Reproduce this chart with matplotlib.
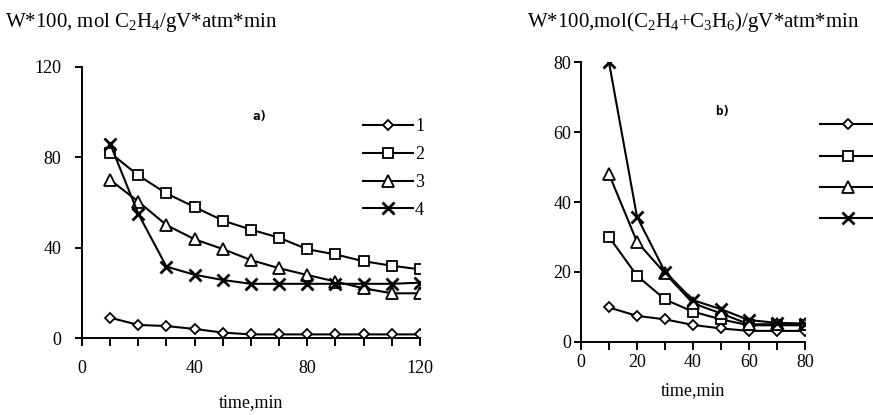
import matplotlib
matplotlib.use("Agg")
import matplotlib.pyplot as plt

plt.rcParams['font.family'] = ['Liberation Serif', 'DejaVu Serif']
plt.rcParams['mathtext.fontset'] = 'custom'
plt.rcParams['mathtext.rm'] = 'Liberation Serif'
plt.rcParams['mathtext.it'] = 'Liberation Serif'

# ---- data: panel a) ----
time_a = [10, 20, 30, 40, 50, 60, 70, 80, 90, 100, 110, 120]
a_s1 = [9, 5.8, 5.3, 4, 2.4, 1.6, 1.6, 1.6, 1.6, 1.6, 1.6, 1.6]
a_s2 = [82, 72, 64, 58, 52, 48, 44.4, 39.3, 37, 34, 32, 30.4]
a_s3 = [70, 60.4, 50, 43.7, 39.4, 34.5, 30.9, 27.9, 25, 22, 19.8, 19.8]
a_s4 = [86, 55, 31.6, 28, 25.7, 24, 24, 24, 24, 24, 24, 24.5]

# ---- data: panel b) ----
time_b = [10, 20, 30, 40, 50, 60, 70, 80]
b_s1 = [9.8, 7.4, 6.4, 4.8, 3.8, 3.1, 3.1, 3.1]
b_s2 = [30, 18.9, 12.1, 8.6, 6.4, 4.7, 4.7, 4.7]
b_s3 = [48, 28.6, 19.6, 11, 8.1, 5.0, 5.0, 5.0]
b_s4 = [80, 35.8, 20, 11.9, 9.3, 6.2, 5.4, 5.2]

legend_labels = ['1', '2', '3', '4']
title_a = r'W*100, mol C$_2$H$_4$/gV*atm*min'
title_b = r'W*100,mol(C$_2$H$_4$+C$_3$H$_6$)/gV*atm*min'
xlabel = 'time,min'

styles = [
    dict(marker='D', markersize=5.5),
    dict(marker='s', markersize=7.5),
    dict(marker='^', markersize=8),
    dict(marker='x', markersize=8.5, markeredgewidth=2.0),
]
common = dict(color='black', linewidth=1.5, markerfacecolor='white',
              markeredgecolor='black', markeredgewidth=1.3)

fig = plt.figure(figsize=(8.73, 4.15), dpi=100)
axa = fig.add_axes([0.0939, 0.1855, 0.3872, 0.6531])
axb = fig.add_axes([0.6655, 0.1766, 0.2566, 0.6733])

def style_axis(ax, xpad, ypad):
    for s in ['top', 'right']:
        ax.spines[s].set_visible(False)
    for s in ['left', 'bottom']:
        ax.spines[s].set_linewidth(1.4)
    ax.tick_params(which='both', direction='out', width=1.4, labelsize=13)
    ax.tick_params(axis='x', which='both', length=6, pad=xpad)
    ax.tick_params(axis='y', which='both', length=5, pad=ypad)

def draw(ax, t, series):
    hs = []
    for ys, st in zip(series, styles):
        kw = dict(common); kw.update(st)
        h, = ax.plot(t, ys, **kw)
        hs.append(h)
    return hs

handles = draw(axa, time_a, [a_s1, a_s2, a_s3, a_s4])
axa.set_xlim(0, 120)
axa.set_ylim(0, 120)
axa.set_xticks([0, 40, 80, 120])
axa.set_xticks(list(range(0, 121, 10)), minor=True)
axa.set_yticks([0, 40, 80, 120])
style_axis(axa, 10, 10)
axa.set_xlabel(xlabel, fontsize=13, labelpad=12)
axa.text(0.503, 0.804, 'a)', transform=axa.transAxes, fontsize=9,
         family='DejaVu Sans Mono', fontweight='bold')
axa.legend(handles, legend_labels, loc='upper left', bbox_to_anchor=(0.405, 0.737),
           bbox_transform=fig.transFigure, frameon=False, fontsize=13,
           handlelength=2.8, handletextpad=0.1, labelspacing=0.6, borderpad=0)

handles_b = draw(axb, time_b, [b_s1, b_s2, b_s3, b_s4])
axb.set_xlim(0, 80)
axb.set_ylim(0, 80)
axb.set_xticks([0, 20, 40, 60, 80])
axb.set_xticks(list(range(0, 81, 10)), minor=True)
axb.set_yticks([0, 20, 40, 60, 80])
style_axis(axb, 3, 2)
axb.set_xlabel(xlabel, fontsize=13, labelpad=8)
axb.text(0.598, 0.811, 'b)', transform=axb.transAxes, fontsize=9,
         family='DejaVu Sans Mono', fontweight='bold')
axb.legend(handles_b, ['', '', '', ''], loc='upper left', bbox_to_anchor=(0.929, 0.738),
           bbox_transform=fig.transFigure, frameon=False, fontsize=13,
           handlelength=3.1, handletextpad=0.0, labelspacing=0.78, borderpad=0)

fig.text(0.006, 0.935, title_a, fontsize=15, ha='left', va='baseline')
fig.text(0.604, 0.935, title_b, fontsize=15, ha='left', va='baseline')

fig.savefig('out.png', dpi=100)
